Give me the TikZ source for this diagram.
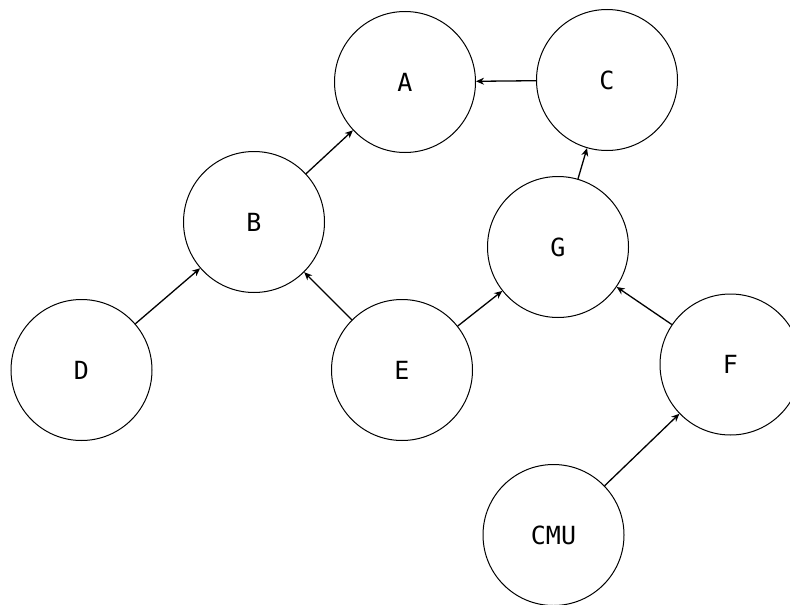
\documentclass[tikz,border=0pt]{standalone}
\usepackage{fontspec}
\setmonofont{DejaVu Sans Mono}
\usetikzlibrary{arrows.meta}
\begin{document}
\begin{tikzpicture}[x=1pt,y=-1pt,
  vtx/.style={circle,draw,line width=1pt,minimum size=141pt,inner sep=0pt,font=\ttfamily\fontsize{25}{30}\selectfont},
  edge/.style={line width=1.3pt,-{Stealth[length=8pt,width=7pt]}}]
\useasboundingbox (0,0) rectangle (790,605);
\node[vtx] (A) at (405,82) {A};
\node[vtx] (C) at (607,80) {C};
\node[vtx] (B) at (254,222) {B};
\node[vtx] (G) at (558,247) {G};
\node[vtx] (D) at (81.5,370) {D};
\node[vtx] (E) at (402,370) {E};
\node[vtx] (F) at (730.5,364.5) {F};
\node[vtx] (CMU) at (553.5,535) {CMU};
\draw[edge] (C) -- (A);
\draw[edge] (B) -- (A);
\draw[edge] (G) -- (C);
\draw[edge] (D) -- (B);
\draw[edge] (E) -- (B);
\draw[edge] (E) -- (G);
\draw[edge] (F) -- (G);
\draw[edge] (CMU) -- (F);
\end{tikzpicture}
\end{document}
